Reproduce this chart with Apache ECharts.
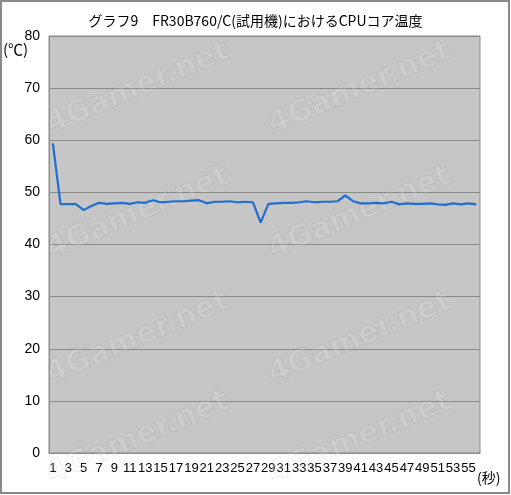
<!DOCTYPE html>
<html><head><meta charset="utf-8">
<script src="https://cdn.jsdelivr.net/npm/echarts@6/dist/echarts.min.js"></script>
<style>html,body{margin:0;padding:0;background:#fff}#c{width:511px;height:495px}</style>
</head><body><div id="c"></div>
<script>
const titleText = 'グラフ9　FR30B760/C(試用機)におけるCPUコア温度';
const categories = ['1','2','3','4','5','6','7','8','9','10','11','12','13','14','15','16','17','18','19','20',
'21','22','23','24','25','26','27','28','29','30','31','32','33','34','35','36','37','38','39','40',
'41','42','43','44','45','46','47','48','49','50','51','52','53','54','55','56'];
const cpuTemp = [59.4,47.75,47.75,47.75,46.6,47.4,48.0,47.8,47.9,48.0,47.8,48.1,48.0,48.5,48.1,48.2,48.3,48.3,48.4,48.5,
47.9,48.2,48.2,48.3,48.1,48.2,48.1,44.2,47.8,47.9,48.0,48.0,48.1,48.3,48.1,48.2,48.2,48.3,49.4,48.3,
47.9,47.9,48.0,47.9,48.2,47.7,47.9,47.8,47.8,47.9,47.7,47.6,47.9,47.7,47.9,47.7];
const yUnit = '(℃)';
const xUnit = '(秒)';
const watermark = '4Gamer.net';

const chart = echarts.init(document.getElementById('c'));
const font = '"Noto Sans CJK JP", "DejaVu Sans", sans-serif';
const wmPos = [[138,88],[360,88],[138,213],[360,213],[138,338],[360,338],[138,438],[360,438]];
const graphics = [
  {type:'rect', shape:{x:1,y:1,width:508,height:492}, style:{fill:'none', stroke:'#8a8a8a', lineWidth:2}, z:0},
  {type:'text', left:3, top:42, style:{text:yUnit, font:'15px ' + font, fill:'#000'}},
  {type:'text', left:477, top:471, style:{text:xUnit, font:'14px ' + font, fill:'#000'}}
];
wmPos.forEach(p => graphics.push({
  type:'text', x:p[0], y:p[1], rotation:0.4, z:2,
  style:{text:watermark, font:'bold 30px "DejaVu Sans", sans-serif', fill:'rgba(255,255,255,0.12)',
         stroke:'rgba(110,110,110,0.12)', lineWidth:1, align:'center', verticalAlign:'middle'}
}));
chart.setOption({
  animation:false,
  backgroundColor:'#fff',
  title:{text:titleText, left:'center', top:9,
    textStyle:{fontSize:14, fontWeight:'normal', color:'#000', fontFamily:font}},
  grid:{left:49, top:36, width:431, height:417, show:true, backgroundColor:'#c6c6c6',
    borderColor:'#8c8c8c', borderWidth:1, containLabel:false},
  graphic:graphics,
  xAxis:{type:'category', data:categories, boundaryGap:true,
    axisLine:{show:true, lineStyle:{color:'#8c8c8c'}}, axisTick:{show:false},
    axisLabel:{interval:1, hideOverlap:false, color:'#000', fontSize:13, margin:9,
      fontFamily:'"Liberation Sans", sans-serif'}},
  yAxis:{type:'value', min:0, max:80, interval:10,
    axisLine:{show:true, lineStyle:{color:'#8c8c8c'}}, axisTick:{show:false},
    axisLabel:{color:'#000', fontSize:14, margin:9, fontFamily:'"Liberation Sans", sans-serif'},
    splitLine:{lineStyle:{color:'#8a8a8a', width:1}}},
  series:[{type:'line', data:cpuTemp, symbol:'none', z:5,
    lineStyle:{color:'#1f6fd0', width:2.2}}]
});
</script></body></html>
